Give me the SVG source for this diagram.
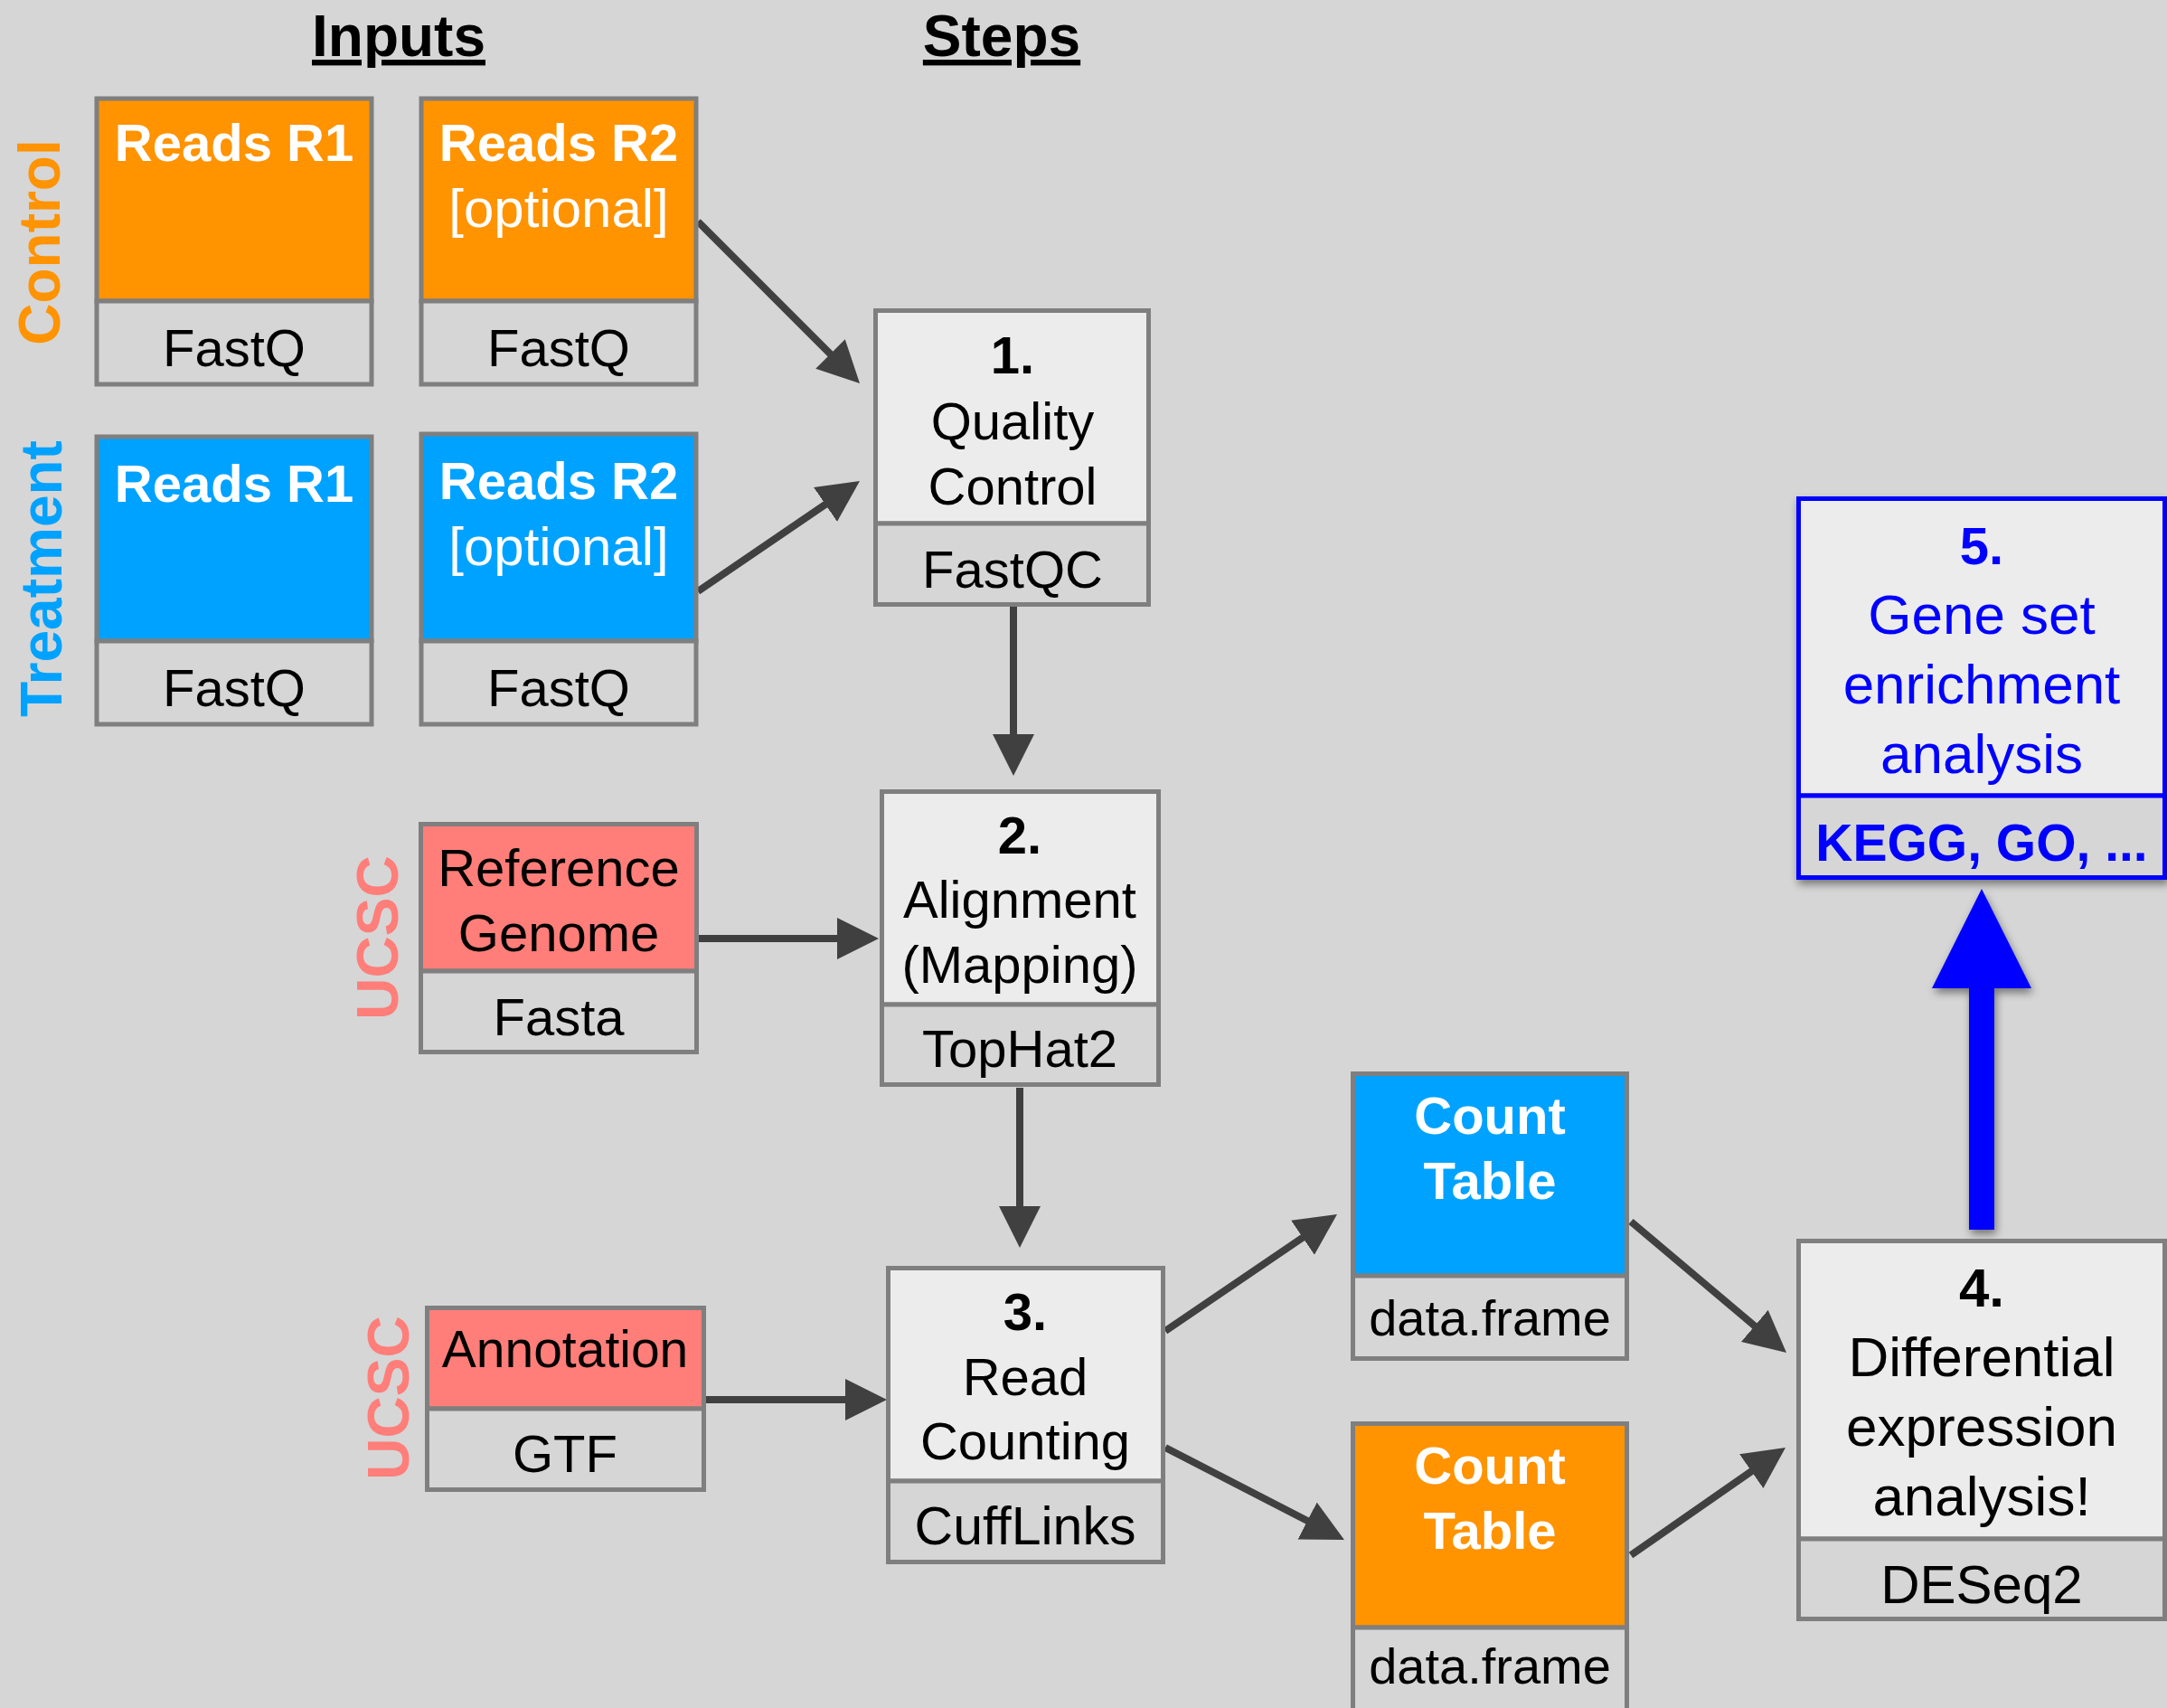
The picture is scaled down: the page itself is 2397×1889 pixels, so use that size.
<svg xmlns="http://www.w3.org/2000/svg" width="2397" height="1889" viewBox="0 0 2397 1889">
<defs>
<style>
text{font-family:"Liberation Sans",Arial,Helvetica,sans-serif;text-anchor:middle}
.box{stroke:#7f7f7f;stroke-width:5}
.top{fill:#ececec}
.bot{fill:#d6d6d6}
.or{fill:#ff9300}
.bl{fill:#00a2ff}
.sa{fill:#ff7e79}
.t{font-size:58px;fill:#000}
.b{font-weight:bold}
.w{fill:#fff}
.side{font-size:64px;font-weight:bold}
.hdr{font-size:64px;font-weight:bold;text-decoration:underline}
.con{stroke:#404040;stroke-width:8;fill:none;marker-end:url(#ah)}
.blue{fill:#0000ff}
</style>
<marker id="ah" markerUnits="userSpaceOnUse" markerWidth="48" markerHeight="48" refX="16" refY="23" orient="auto" viewBox="0 0 48 48">
<path d="M0,0 L46,23 L0,46 z" fill="#404040"/>
</marker>
<filter id="sh" x="-20%" y="-20%" width="140%" height="140%">
<feDropShadow dx="2" dy="5" stdDeviation="5" flood-color="#000" flood-opacity="0.45"/>
</filter>
</defs>
<rect x="0" y="0" width="2397" height="1889" fill="#d6d6d6"/>

<g id="headers">
<text class="hdr" x="441" y="62">Inputs</text>
<text class="hdr" x="1108" y="62">Steps</text>
</g>

<g id="side-labels">
<text class="side" fill="#ff9300" transform="translate(66,268) rotate(-90)">Control</text>
<text class="side" fill="#00a2ff" transform="translate(68,640) rotate(-90)">Treatment</text>
<text class="side" fill="#ff7e79" transform="translate(440,1037) rotate(-90)">UCSC</text>
<text class="side" fill="#ff7e79" transform="translate(452,1546) rotate(-90)">UCSC</text>
</g>

<g id="connectors">
<line class="con" x1="772" y1="245" x2="929.8" y2="402.8"/>
<line class="con" x1="772" y1="654" x2="926.2" y2="548.9"/>
<line class="con" x1="1121" y1="671" x2="1121" y2="828"/>
<line class="con" x1="773" y1="1038" x2="942" y2="1038"/>
<line class="con" x1="1128" y1="1203" x2="1128" y2="1350"/>
<line class="con" x1="781" y1="1548" x2="951" y2="1548"/>
<line class="con" x1="1289" y1="1472" x2="1454.2" y2="1359.8"/>
<line class="con" x1="1289" y1="1601" x2="1460.3" y2="1689.3"/>
<line class="con" x1="1804" y1="1351" x2="1953.1" y2="1476.7"/>
<line class="con" x1="1804" y1="1720" x2="1950.4" y2="1618.1"/>
<path id="big-arrow" d="M2178,1360 L2178,1093 L2137,1093 L2192,983 L2247,1093 L2206,1093 L2206,1360 z" fill="#0000ff" filter="url(#sh)"/>
</g>

<g id="control-r1">
<rect class="box or" x="107" y="109" width="304" height="224"/>
<rect class="box bot" x="107" y="333" width="304" height="92"/>
<text class="t b w" x="259" y="178">Reads R1</text>
<text class="t" x="259" y="405">FastQ</text>
</g>

<g id="control-r2">
<rect class="box or" x="466" y="109" width="304" height="224"/>
<rect class="box bot" x="466" y="333" width="304" height="92"/>
<text class="t b w" x="618" y="178">Reads R2</text>
<text class="t w" x="618" y="251" style="font-size:60px">[optional]</text>
<text class="t" x="618" y="405">FastQ</text>
</g>

<g id="treatment-r1">
<rect class="box bl" x="107" y="483" width="304" height="226"/>
<rect class="box bot" x="107" y="709" width="304" height="92"/>
<text class="t b w" x="259" y="555">Reads R1</text>
<text class="t" x="259" y="781">FastQ</text>
</g>

<g id="treatment-r2">
<rect class="box bl" x="466" y="480" width="304" height="229"/>
<rect class="box bot" x="466" y="709" width="304" height="92"/>
<text class="t b w" x="618" y="552">Reads R2</text>
<text class="t w" x="618" y="625" style="font-size:60px">[optional]</text>
<text class="t" x="618" y="781">FastQ</text>
</g>

<g id="reference-genome">
<rect class="box sa" x="465.5" y="911.5" width="305" height="162.5"/>
<rect class="box bot" x="465.5" y="1074" width="305" height="89.5"/>
<text class="t" x="618" y="980">Reference</text>
<text class="t" x="618" y="1052">Genome</text>
<text class="t" x="618" y="1145">Fasta</text>
</g>

<g id="annotation">
<rect class="box sa" x="472.5" y="1446.5" width="306" height="111.5"/>
<rect class="box bot" x="472.5" y="1558" width="306" height="89.5"/>
<text class="t" x="625" y="1512" style="font-size:57px">Annotation</text>
<text class="t" x="625" y="1628">GTF</text>
</g>

<g id="step1">
<rect class="box top" x="968.5" y="343.5" width="302" height="235.5"/>
<rect class="box bot" x="968.5" y="579" width="302" height="89.5"/>
<text class="t b" x="1120" y="413">1.</text>
<text class="t" x="1120" y="486">Quality</text>
<text class="t" x="1120" y="558">Control</text>
<text class="t" x="1120" y="650">FastQC</text>
</g>

<g id="step2">
<rect class="box top" x="975.5" y="875.5" width="306" height="235.5"/>
<rect class="box bot" x="975.5" y="1111" width="306" height="88.5"/>
<text class="t b" x="1128" y="944">2.</text>
<text class="t" x="1128" y="1015">Alignment</text>
<text class="t" x="1128" y="1087">(Mapping)</text>
<text class="t" x="1128" y="1180">TopHat2</text>
</g>

<g id="step3">
<rect class="box top" x="982.5" y="1402.5" width="304" height="235.5"/>
<rect class="box bot" x="982.5" y="1638" width="304" height="89.5"/>
<text class="t b" x="1134" y="1471">3.</text>
<text class="t" x="1134" y="1543">Read</text>
<text class="t" x="1134" y="1614">Counting</text>
<text class="t" x="1134" y="1708" style="font-size:59px">CuffLinks</text>
</g>

<g id="count-table-treatment">
<rect class="box bl" x="1496.5" y="1187.5" width="303" height="223.5"/>
<rect class="box bot" x="1496.5" y="1411" width="303" height="91.5"/>
<text class="t b w" x="1648" y="1254">Count</text>
<text class="t b w" x="1648" y="1326">Table</text>
<text class="t" x="1648" y="1477" style="font-size:56px">data.frame</text>
</g>

<g id="count-table-control">
<rect class="box or" x="1496.5" y="1574.5" width="303" height="225.5"/>
<rect class="box bot" x="1496.5" y="1800" width="303" height="95"/>
<text class="t b w" x="1648" y="1641">Count</text>
<text class="t b w" x="1648" y="1713">Table</text>
<text class="t" x="1648" y="1862" style="font-size:56px">data.frame</text>
</g>

<g id="step4">
<rect class="box top" x="1989.5" y="1372.5" width="405" height="329.5"/>
<rect class="box bot" x="1989.5" y="1702" width="405" height="88.5"/>
<text class="t b" x="2192" y="1445" style="font-size:60px">4.</text>
<text class="t" x="2192" y="1522" style="font-size:62px">Differential</text>
<text class="t" x="2192" y="1599" style="font-size:62px">expression</text>
<text class="t" x="2192" y="1676" style="font-size:62px">analysis!</text>
<text class="t" x="2192" y="1773" style="font-size:60px">DESeq2</text>
</g>

<g id="step5" filter="url(#sh)">
<rect class="top" x="1989.5" y="551.5" width="405" height="328.5" stroke="#0000ff" stroke-width="5"/>
<rect class="bot" x="1989.5" y="880" width="405" height="90.5" stroke="#0000ff" stroke-width="5"/>
</g>
<g id="step5-text">
<text class="t b blue" x="2192" y="624">5.</text>
<text class="t blue" x="2192" y="701" style="font-size:62px">Gene set</text>
<text class="t blue" x="2192" y="778" style="font-size:62px">enrichment</text>
<text class="t blue" x="2192" y="855" style="font-size:62px">analysis</text>
<text class="t b blue" x="2192" y="952" style="font-size:57px">KEGG, GO, ...</text>
</g>
</svg>
